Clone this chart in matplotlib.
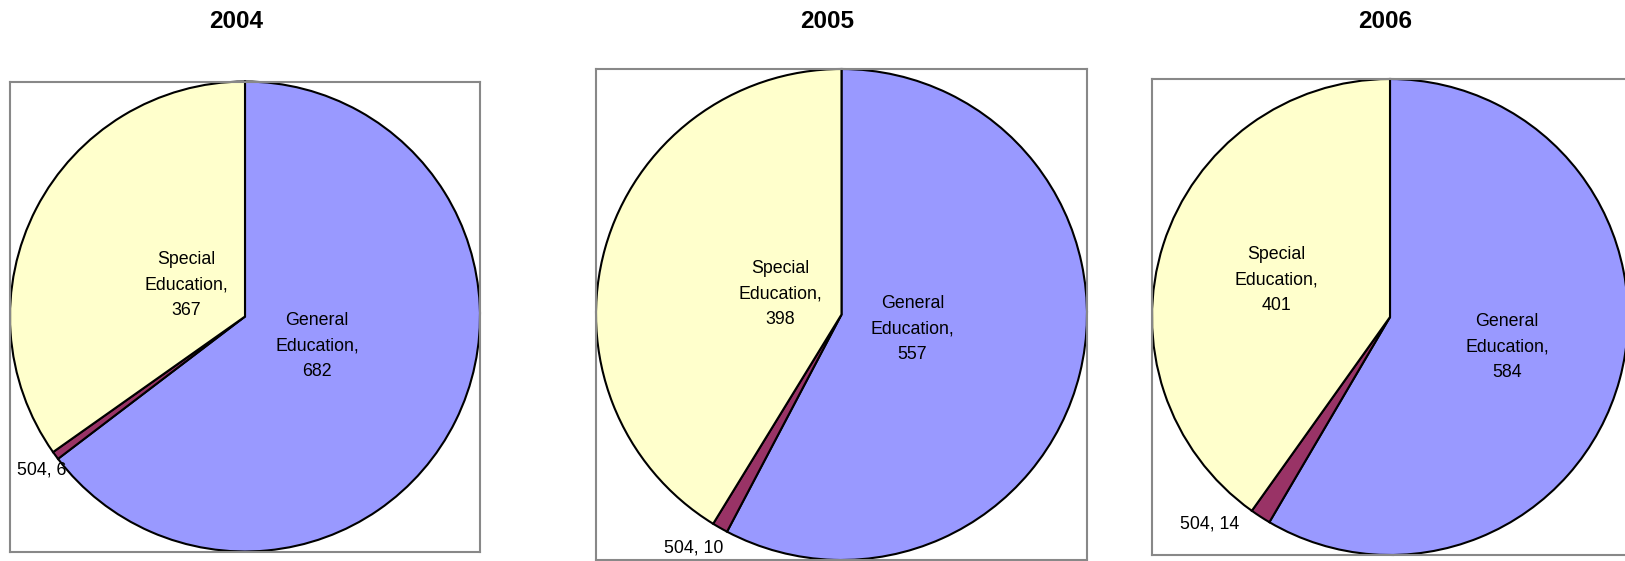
import numpy as np
import matplotlib.pyplot as plt

plt.rcParams['font.family'] = ['Liberation Sans', 'DejaVu Sans']

years = ['2004', '2005', '2006']
categories = ['General Education', '504', 'Special Education']
general = [682, 557, 584]
sec504 = [6, 10, 14]
special = [367, 398, 401]

colors = ['#9999FF', '#993366', '#FFFFCC']

W, H = 1625, 561
# pie box in pixels: centre x, centre y, radius
panels = [(245, 316.5, 235), (841.5, 314.5, 245.5), (1390, 317, 238)]
# label placement per panel: (distance, angle nudge) for each wedge
label_pos = [
    [(0.331, 4.0), (1.085, 0.8), (0.285, -0.7)],
    [(0.295, 2.4), (1.125, -2.6), (0.264, -2.6)],
    [(0.508, 0.7), (1.152, -8.1), (0.503, -0.2)],
]
title_x = [236.5, 827, 1385]

fig = plt.figure(figsize=(W / 100, H / 100), dpi=100)

for i, year in enumerate(years):
    cx, cy, r = panels[i]
    ax = fig.add_axes([(cx - r) / W, 1 - (cy + r) / H, 2 * r / W, 2 * r / H])
    vals = [general[i], sec504[i], special[i]]
    wedges, _ = ax.pie(vals, colors=colors, startangle=90, counterclock=False,
                       radius=1, frame=True,
                       wedgeprops=dict(edgecolor='black', linewidth=1.5))
    for w in wedges:
        w.set_clip_on(False)
    ax.set_aspect('auto')
    ax.set_xlim(-1, 1)
    ax.set_ylim(-1, 1)
    ax.set_xticks([])
    ax.set_yticks([])
    for s in ax.spines.values():
        s.set_edgecolor('#888888')
        s.set_linewidth(1.5)

    for j, w in enumerate(wedges):
        d, nudge = label_pos[i][j]
        ang = np.deg2rad((w.theta1 + w.theta2) / 2 + nudge)
        if categories[j] == '504':
            txt = f'504, {vals[j]}'
        else:
            name = categories[j].split(' ')
            txt = f'{name[0]}\n{name[1]},\n{vals[j]}'
        ax.text(d * np.cos(ang), d * np.sin(ang), txt, ha='center',
                va='center', fontsize=12.8, linespacing=1.65,
                multialignment='center', clip_on=False)

    fig.text(title_x[i] / W, 1 - 21.5 / H, year, ha='center', va='center',
             fontsize=17.5, fontweight='bold')

fig.savefig('out.png', dpi=100, facecolor='white')
